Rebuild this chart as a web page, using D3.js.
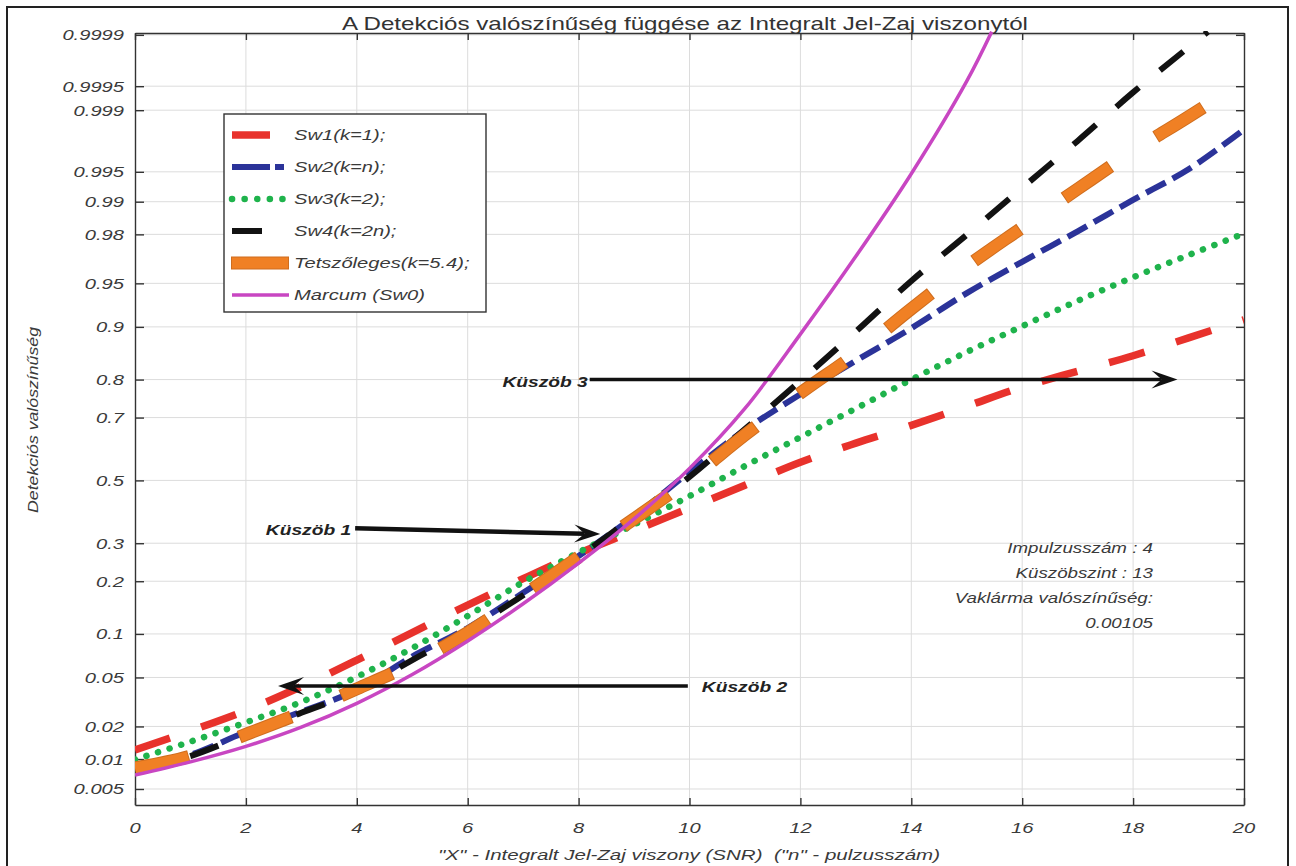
<!DOCTYPE html>
<html><head><meta charset="utf-8">
<script src="https://cdn.jsdelivr.net/npm/d3@7/dist/d3.min.js"></script>
<style>
html,body{margin:0;padding:0;background:#fff;}
svg text{font-family:"Liberation Sans",Arial,Helvetica,sans-serif;}
</style></head><body>
<svg id="chart" width="1296" height="866"></svg>
<script>
// ---------------- data ----------------
const snr = [0,1,2,3,4,5,6,7,8,9,10,11,12,13,14,15,16,17,18,19,20];
const sw1 = [0.0122,0.0183,0.0274,0.0427,0.0668,0.102,0.149,0.206,0.271,0.337,0.409,0.484,0.560,0.622,0.677,0.732,0.782,0.819,0.851,0.883,0.910];
const sw2 = [0.0082,0.0110,0.0179,0.0268,0.0401,0.0708,0.109,0.174,0.264,0.382,0.528,0.663,0.764,0.841,0.898,0.941,0.966,0.9812,0.9904,0.9953,0.9983];
const sw3 = [0.0099,0.0146,0.0217,0.0322,0.0505,0.0808,0.129,0.198,0.274,0.356,0.448,0.548,0.641,0.726,0.800,0.858,0.901,0.933,0.955,0.970,0.9803];
const sw4X = [0,1,2,3,4,5,6,7,8,9,10,11,12,13,14,15,16,17,18,19,19.35];
const sw4 = [0.00776,0.0107,0.0170,0.0262,0.0392,0.0668,0.106,0.169,0.261,0.382,0.512,0.666,0.797,0.893,0.952,0.9798,0.9927,0.9977,0.99940,0.99985,0.99991];
const tetsz = [0.0082,0.0107,0.0170,0.0262,0.0409,0.0630,0.102,0.169,0.261,0.374,0.504,0.648,0.767,0.855,0.924,0.963,0.9826,0.9925,0.9970,0.9988,0.99957];
const marcumX = [0,1,2,3,4,5,6,7,8,9,10,11,12,13,14,15,15.45];
const marcum = [0.00695,0.00939,0.0132,0.0197,0.0314,0.0526,0.0901,0.1515,0.245,0.374,0.540,0.726,0.889,0.9693,0.99477,0.99957,0.99991];

const seriesNames = ["Sw1(k=1);","Sw2(k=n);","Sw3(k=2);","Sw4(k=2n);","Tetszőleges(k=5.4);","Marcum (Sw0)"];
const xTicks = [0,2,4,6,8,10,12,14,16,18,20];
const yTicks = [0.005,0.01,0.02,0.05,0.1,0.2,0.3,0.5,0.7,0.8,0.9,0.95,0.98,0.99,0.995,0.999,0.9995,0.9999];
const yTickLabels = ["0.005","0.01","0.02","0.05","0.1","0.2","0.3","0.5","0.7","0.8","0.9","0.95","0.98","0.99","0.995","0.999","0.9995","0.9999"];
const yExtent = [0.00337, 0.999906];
const titleText = "A Detekciós valószínűség függése az Integralt Jel-Zaj viszonytól";
const xLabelText = "\"X\" - Integralt Jel-Zaj viszony (SNR)  (\"n\" - pulzusszám)";
const yLabelText = "Detekciós valószínűség";
const infoLines = ["Impulzusszám : 4","Küszöbszint : 13","Vaklárma valószínűség:","0.00105"];
// annotation arrows: [label, fromX, fromP, toX, toP]
const thresholds = [
  ["Küszöb 1", 3.97, 0.345, 8.39, 0.327],
  ["Küszöb 2", 9.97, 0.043, 2.58, 0.043],
  ["Küszöb 3", 8.20, 0.80, 18.80, 0.80]
];

// ---------------- probability (normal) axis transform ----------------
function probit(p){
  const a=[-3.969683028665376e+01,2.209460984245205e+02,-2.759285104469687e+02,1.383577518672690e+02,-3.066479806614716e+01,2.506628277459239e+00];
  const b=[-5.447609879822406e+01,1.615858368580409e+02,-1.556989798598866e+02,6.680131188771972e+01,-1.328068155288572e+01];
  const c=[-7.784894002430293e-03,-3.223964580411365e-01,-2.400758277161838e+00,-2.549732539343734e+00,4.374664141464968e+00,2.938163982698783e+00];
  const d=[7.784695709041462e-03,3.224671290700398e-01,2.445134137142996e+00,3.754408661907416e+00];
  const pl=0.02425, ph=1-pl; let q,r;
  if(p<pl){q=Math.sqrt(-2*Math.log(p));return (((((c[0]*q+c[1])*q+c[2])*q+c[3])*q+c[4])*q+c[5])/((((d[0]*q+d[1])*q+d[2])*q+d[3])*q+1);}
  if(p<=ph){q=p-0.5;r=q*q;return (((((a[0]*r+a[1])*r+a[2])*r+a[3])*r+a[4])*r+a[5])*q/(((((b[0]*r+b[1])*r+b[2])*r+b[3])*r+b[4])*r+1);}
  q=Math.sqrt(-2*Math.log(1-p));return -(((((c[0]*q+c[1])*q+c[2])*q+c[3])*q+c[4])*q+c[5])/((((d[0]*q+d[1])*q+d[2])*q+d[3])*q+1);
}

// ---------------- layout ----------------
const svg = d3.select("#chart");
const M = {left:135, top:33, right:1244, bottom:805};
const x = d3.scaleLinear().domain([0,20]).range([M.left, M.right]);
const z = d3.scaleLinear().domain([probit(yExtent[0]), probit(yExtent[1])]).range([M.bottom, M.top]);
const y = p => z(probit(p));
const TXT = "#3a3a3a";

function stext(g, px, py, str, o={}){
  const sx = o.sx ?? 1.3;
  return g.append("text")
    .attr("transform", `translate(${px},${py}) scale(${sx},1)`)
    .attr("text-anchor", o.anchor || "start")
    .attr("dy", o.dy || "0.35em")
    .style("font-size", (o.size||15.5)+"px")
    .style("font-style", o.style||"italic")
    .style("font-weight", o.weight||"normal")
    .style("fill", o.fill||TXT)
    .text(str);
}

// outer frame
svg.append("rect").attr("x",7).attr("y",7).attr("width",1281).attr("height",880)
  .attr("fill","none").attr("stroke","#222").attr("stroke-width",2);

// grid
const grid = svg.append("g");
grid.selectAll("line.gx").data(xTicks.slice(1,-1)).join("line")
  .attr("x1",d=>x(d)).attr("x2",d=>x(d)).attr("y1",M.top).attr("y2",M.bottom)
  .attr("stroke","#dcdcdc").attr("stroke-width",1);
grid.selectAll("line.gy").data(yTicks).join("line")
  .attr("x1",M.left).attr("x2",M.right).attr("y1",d=>y(d)).attr("y2",d=>y(d))
  .attr("stroke","#dcdcdc").attr("stroke-width",1);

// axes (ticks pointing inward)
const axStyle = g => { g.selectAll("path").attr("stroke","#333").attr("stroke-width",1.4); g.selectAll("line").attr("stroke","#333").attr("stroke-width",1.4); g.selectAll("text").remove(); };
svg.append("g").attr("transform",`translate(0,${M.bottom})`).call(d3.axisBottom(x).tickValues(xTicks).tickSize(-7).tickSizeOuter(0).tickFormat("")).call(axStyle);
svg.append("g").attr("transform",`translate(0,${M.top})`).call(d3.axisTop(x).tickValues(xTicks).tickSize(-7).tickSizeOuter(0).tickFormat("")).call(axStyle);
svg.append("g").attr("transform",`translate(${M.left},0)`).call(d3.axisLeft(z).tickValues(yTicks.map(probit)).tickSize(-9).tickSizeOuter(0).tickFormat("")).call(axStyle);
svg.append("g").attr("transform",`translate(${M.right},0)`).call(d3.axisRight(z).tickValues(yTicks.map(probit)).tickSize(-8).tickSizeOuter(0).tickFormat("")).call(axStyle);

// tick labels
const lab = svg.append("g");
xTicks.forEach(t => stext(lab, x(t), 828, String(t), {anchor:"middle", size:15.5}));
yTicks.forEach((t,i) => stext(lab, M.left-11, y(t), yTickLabels[i], {anchor:"end", size:15.5}));

// title and axis labels
svg.append("text").attr("x",342).attr("y",30).attr("textLength",686).attr("lengthAdjust","spacingAndGlyphs")
  .style("font-size","18.5px").style("fill","#333").text(titleText);
svg.append("text").attr("x",438).attr("y",860).attr("textLength",502).attr("lengthAdjust","spacingAndGlyphs")
  .style("font-size","15.5px").style("font-style","italic").style("fill",TXT).style("white-space","pre").text(xLabelText);
svg.append("text").attr("transform","translate(38,513) rotate(-90)").attr("textLength",186).attr("lengthAdjust","spacingAndGlyphs")
  .style("font-size","15px").style("font-style","italic").style("fill",TXT).text(yLabelText);

// series
const styles = [
  {color:"#e8322c", width:7.5, dash:"37 33", cap:"butt"},
  {color:"#2b3399", width:6,   dash:"22 8",  cap:"butt"},
  {color:"#1fb34c", width:6.5, dash:"0.1 12",cap:"round"},
  {color:"#121212", width:6,   dash:"30 27", cap:"butt"},
  {color:"#f08024", width:11,  dash:"54 56", cap:"butt", outline:"#cf6d1e"},
  {color:"#c846c2", width:3.5, dash:null,    cap:"butt"}
];
const series = [
  snr.map((v,i)=>[v, sw1[i]]),
  snr.map((v,i)=>[v, sw2[i]]),
  snr.map((v,i)=>[v, sw3[i]]),
  sw4X.map((v,i)=>[v, sw4[i]]),
  snr.map((v,i)=>[v, tetsz[i]]),
  marcumX.map((v,i)=>[v, marcum[i]])
];
svg.append("clipPath").attr("id","plotclip").append("rect")
  .attr("x",M.left).attr("y",M.top-2).attr("width",M.right-M.left).attr("height",M.bottom-M.top+2);
const line = d3.line().x(d=>x(d[0])).y(d=>y(d[1])).curve(d3.curveCatmullRom.alpha(0.5));
const plot = svg.append("g").attr("clip-path","url(#plotclip)");
series.forEach((s,i)=>{
  const st = styles[i];
  if(st.outline){
    plot.append("path").attr("d",line(s)).attr("fill","none").attr("stroke",st.outline)
      .attr("stroke-width",st.width+2).attr("stroke-dasharray","56 54").attr("stroke-dashoffset",1);
  }
  const p = plot.append("path").attr("d",line(s)).attr("fill","none").attr("stroke",st.color)
    .attr("stroke-width",st.width).attr("stroke-linecap",st.cap).attr("stroke-linejoin","round");
  if(st.dash) p.attr("stroke-dasharray",st.dash);
});

// threshold arrows
const ann = svg.append("g");
thresholds.forEach(([label,x1,p1,x2,p2],i)=>{
  const X1=x(x1),Y1=y(p1),X2=x(x2),Y2=y(p2);
  const L=26,W=18; const len=Math.hypot(X2-X1,Y2-Y1); const ux=(X2-X1)/len, uy=(Y2-Y1)/len; const nx=-uy, ny=ux;
  ann.append("line").attr("x1",X1).attr("y1",Y1).attr("x2",X2-ux*L*0.6).attr("y2",Y2-uy*L*0.6)
    .attr("stroke","#111").attr("stroke-width", i===0?4.5:3.5);
  ann.append("path").attr("d",`M${X2},${Y2} L${X2-ux*L+nx*W/2},${Y2-uy*L+ny*W/2} L${X2-ux*L*0.6},${Y2-uy*L*0.6} L${X2-ux*L-nx*W/2},${Y2-uy*L-ny*W/2} Z`)
    .attr("fill","#111");
  if(i===0) stext(ann, X1-4, Y1+2, label, {anchor:"end", weight:"bold", size:15, sx:1.28, fill:"#222"});
  if(i===1) stext(ann, X1+14, Y1+1, label, {anchor:"start", weight:"bold", size:15, sx:1.28, fill:"#222"});
  if(i===2) stext(ann, X1-2, Y1+2, label, {anchor:"end", weight:"bold", size:15, sx:1.28, fill:"#222"});
});

// info text
infoLines.forEach((t,i)=> stext(svg, 1153, 548 + i*25, t, {anchor:"end", size:15, sx:1.25}));

// legend
const lg = svg.append("g");
lg.append("rect").attr("x",224).attr("y",114).attr("width",262).attr("height",198)
  .attr("fill","#fff").attr("stroke","#333").attr("stroke-width",1.4);
const sampleLen = [38,52,52,30,56,57];
seriesNames.forEach((n,i)=>{
  const ry = 135 + i*32; const st = styles[i];
  if(st.outline) lg.append("line").attr("x1",231).attr("x2",233+sampleLen[i]).attr("y1",ry).attr("y2",ry).attr("stroke",st.outline).attr("stroke-width",st.width+2);
  const l = lg.append("line").attr("x1",232).attr("x2",232+sampleLen[i]).attr("y1",ry).attr("y2",ry)
    .attr("stroke",st.color).attr("stroke-width",st.width).attr("stroke-linecap",st.cap);
  if(i===1) l.attr("stroke-dasharray","38 5 10 5");
  if(i===2) l.attr("stroke-dasharray","0.1 12.5");
  stext(lg, 294, ry, n, {size:15.5, sx:1.3});
});
</script>
</body></html>
